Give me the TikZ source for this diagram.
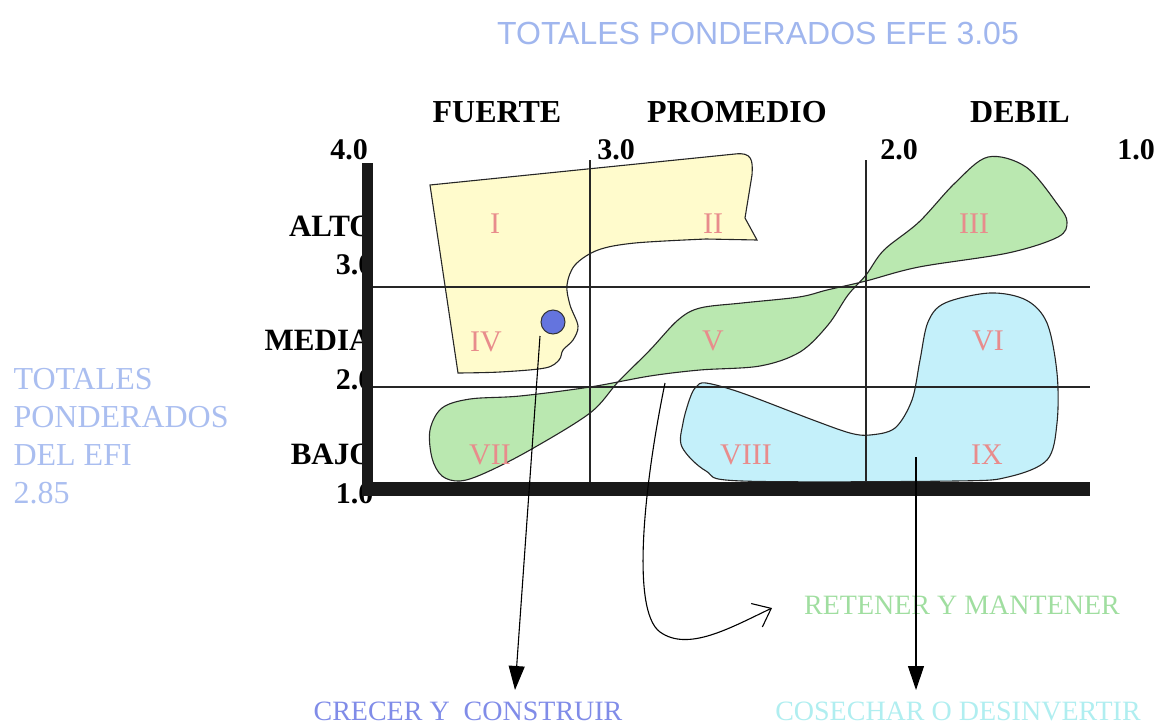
\documentclass[tikz,border=0pt]{standalone}
\usepackage{fontspec}
\setmainfont{Liberation Serif}
\newfontfamily\arialf{Liberation Sans}
\usetikzlibrary{arrows.meta}
\definecolor{ttlblue}{RGB}{160,182,238}
\definecolor{efiblue}{RGB}{170,190,240}
\definecolor{romanpink}{RGB}{232,140,140}
\definecolor{yellowfill}{RGB}{255,251,204}
\definecolor{greenfill}{RGB}{186,232,176}
\definecolor{bluefill}{RGB}{196,240,250}
\definecolor{dotblue}{RGB}{100,116,222}
\definecolor{crecer}{RGB}{128,140,232}
\definecolor{retener}{RGB}{160,222,160}
\definecolor{cosechar}{RGB}{176,238,240}
\begin{document}
\begin{tikzpicture}[x=1pt,y=-1pt,
  topword/.style={font=\fontsize{32}{36}\selectfont\bfseries, anchor=base},
  axnum/.style={font=\fontsize{30}{34}\selectfont\bfseries, anchor=base},
  sidelab/.style={font=\fontsize{31}{36}\selectfont\bfseries, anchor=base east},
  roman/.style={font=\fontsize{30}{34}\selectfont, text=romanpink},
  efi/.style={font=\fontsize{32}{36}\selectfont, text=efiblue, anchor=base west},
  outline/.style={draw=black!85, line width=1.1pt},
  grid/.style={draw=black!85, line width=1.1pt},
  axisbar/.style={fill=black!90, draw=none},
  strat/.style={font=\fontsize{28}{32}\selectfont, anchor=base, inner sep=1pt}
]
\useasboundingbox (0,0) rectangle (1159,726);

% title
\node[font=\arialf\fontsize{32}{36}\selectfont, text=ttlblue, anchor=base] (title) at (758,44) {TOTALES PONDERADOS EFE 3.05};

% top labels
\node[topword] (fuerte) at (497,122) {FUERTE};
\node[topword] (promedio) at (737,122) {PROMEDIO};
\node[topword] (debil) at (1020,122) {DEBIL};
\node[axnum] (x4) at (349,159) {4.0};
\node[axnum] (x3) at (616,159) {3.0};
\node[axnum] (x2) at (899,159) {2.0};
\node[axnum] (x1) at (1136,159) {1.0};

% left labels (partly hidden by axis)
\node[sidelab] (alto) at (377,236) {ALTO};
\node[sidelab, font=\fontsize{30}{34}\selectfont\bfseries] (y3) at (377,274) {3.0};
\node[sidelab] (media) at (375,350) {MEDIA};
\node[sidelab, font=\fontsize{30}{34}\selectfont\bfseries] (y2) at (377,389) {2.0};
\node[sidelab] (bajo) at (377,464) {BAJO};
\node[sidelab, font=\fontsize{30}{34}\selectfont\bfseries] (y1) at (377,503) {1.0};

% EFI text
\node[efi] (efi1) at (10,389) {TOTALES};
\node[efi] (efi2) at (10,427) {PONDERADOS};
\node[efi] (efi3) at (10,465) {DEL EFI};
\node[efi] (efi4) at (10,503) {2.85};

% yellow region
\draw[outline, fill=yellowfill] (430,185) -- (735,154) .. controls (752,152) and (753,160) .. (752,175)
  -- (745,218) -- (757,240)
  -- plot[smooth, tension=0.55] coordinates {(706,239) (635,243) (598,250) (575,265) (567,285) (570,305) (578,326) (573,340) (563,350) (559,360) (545,368) (500,372) (458,373)}
  -- cycle;

% green region
\draw[outline, fill=greenfill] plot[smooth cycle, tension=0.55] coordinates {
  (430,430) (442,408) (470,399) (520,396) (590,387) (650,376) (700,370) (760,366)
  (800,352) (828,325) (848,295) (866,275) (884,250) (919,222) (955,183) (988,157)
  (1026,167) (1058,205) (1067,222) (1058,237) (1008,253) (919,267) (866,281)
  (827,290) (799,297) (742,303) (700,308) (678,320) (650,350) (618,382) (590,413)
  (530,450) (485,473) (460,481) (442,476) (432,458)};

% blue region
\draw[outline, fill=bluefill] plot[smooth cycle, tension=0.55] coordinates {
  (696,387) (706,383) (742,393) (813,420) (850,433) (870,435) (895,428) (912,400)
  (920,360) (928,322) (945,303) (990,293) (1026,300) (1047,323) (1057,373)
  (1057,423) (1047,460) (1008,477) (955,481) (742,481) (706,471) (682,447)
  (683,423) (690,398)};

% grid lines
\coordinate (h1a) at (373,287); \coordinate (h1b) at (1090,287);
\coordinate (h2a) at (373,387); \coordinate (h2b) at (1090,387);
\coordinate (v1a) at (590,160); \coordinate (v1b) at (590,482);
\coordinate (v2a) at (866,160); \coordinate (v2b) at (866,482);
\draw[grid] (h1a) -- (h1b);
\draw[grid] (h2a) -- (h2b);
\draw[grid] (v1a) -- (v1b);
\draw[grid] (v2a) -- (v2b);

% axes (thick bars)
\fill[axisbar] (362,163) rectangle (373,496);
\fill[axisbar] (362,482) rectangle (1090,496);

% roman numerals
\node[roman] (rI) at (495,224) {I};
\node[roman] (rII) at (713,224) {II};
\node[roman] (rIII) at (974,224) {III};
\node[roman] (rIV) at (486,342) {IV};
\node[roman] (rV) at (713,341) {V};
\node[roman] (rVI) at (988,341) {VI};
\node[roman] (rVII) at (490,455) {VII};
\node[roman] (rVIII) at (746,455) {VIII};
\node[roman] (rIX) at (987,455) {IX};

% strategy labels
\node[strat, text=crecer] (crecer) at (468,720) {CRECER Y\ \ CONSTRUIR};
\node[strat, text=retener] (retener) at (962,614) {RETENER Y MANTENER};
\node[strat, text=cosechar] (cosechar) at (958,720) {COSECHAR O DESINVERTIR};

% dot
\node[circle, fill=dotblue, draw=black!80, line width=1pt, minimum size=24pt, inner sep=0pt] (dot) at (553,322) {};

% arrows
\coordinate (a1s) at (540,336);
\coordinate (a1e) at (515,690);
\draw[line width=1.1pt, -{Triangle[length=24pt,width=16pt]}] (a1s) -- (a1e);
\coordinate (a3s) at (916,457);
\coordinate (a3e) at (916,690);
\draw[line width=1.1pt, -{Triangle[length=24pt,width=16pt]}] (a3s) -- (a3e);
\coordinate (a2s) at (665,383);
\coordinate (a2e) at (772,608);
\draw[line width=1.1pt, -{Straight Barb[length=16pt,width=26pt]}] (a2s) .. controls (645,480) and (630,610) .. (660,632)
  .. controls (688,652) and (730,628) .. (a2e);
\end{tikzpicture}
\end{document}
